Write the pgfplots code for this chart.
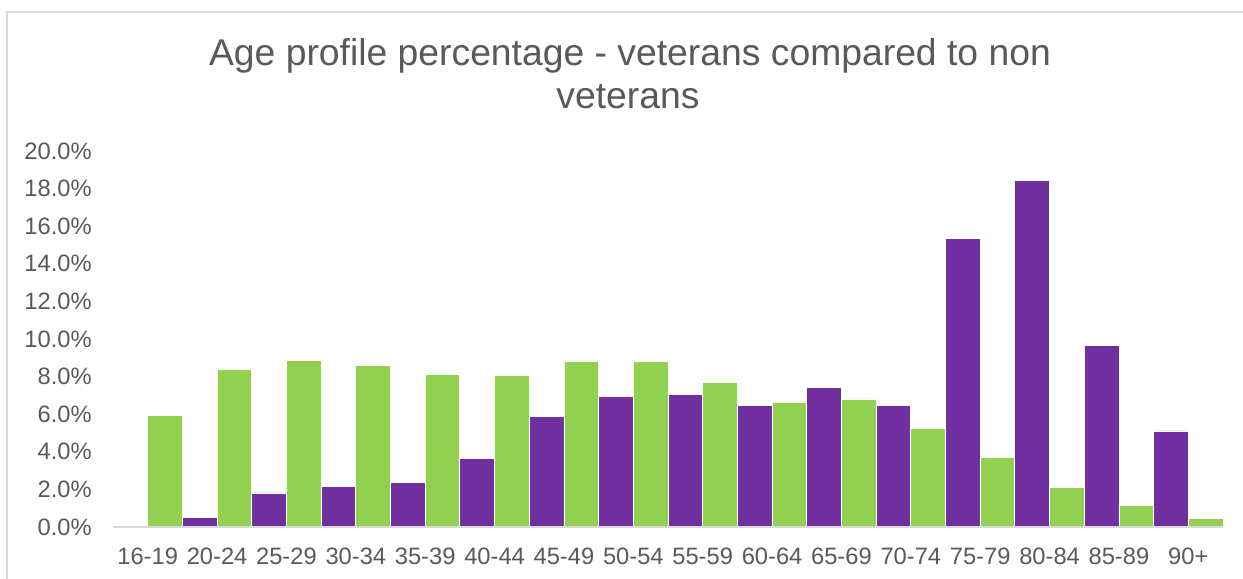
\documentclass[border=0pt]{standalone}
\usepackage{fontspec}
\setmainfont{Liberation Sans}
\usepackage{pgfplots}
\pgfplotsset{compat=1.18}
\usepackage{pgfplotstable}

\definecolor{vetpurple}{HTML}{7030A0}
\definecolor{nongreen}{HTML}{92D050}
\definecolor{labelgray}{HTML}{595959}
\definecolor{framegray}{HTML}{D9D9D9}

% age band index, veterans (%), non veterans (%)
\pgfplotstableread{
idx vet non
0  0.05  5.93
1  0.53  8.37
2  1.81  8.85
3  2.18  8.60
4  2.39  8.14
5  3.63  8.05
6  5.89  8.83
7  6.96  8.82
8  7.04  7.68
9  6.46  6.65
10 7.40  6.81
11 6.48  5.22
12 15.33 3.72
13 18.43 2.09
14 9.66  1.13
15 5.11  0.44
}\agedata

\begin{document}
\begin{tikzpicture}
\path[use as bounding box] (0,0) rectangle (621.5bp,289.5bp);
% chart frame
\draw[framegray, line width=1bp] (3.5bp,0) -- (3.5bp,283.5bp) -- (621.5bp,283.5bp);

\begin{axis}[
  at={(56.5bp,26bp)}, anchor=south west,
  scale only axis,
  width=555bp, height=188bp,
  xmin=-0.5, xmax=15.5,
  ymin=0, ymax=20,
  ybar, bar width=0.5,
  axis line style={draw=none},
  major tick length=0pt,
  tick style={draw=none},
  xtick={0,...,15},
  xticklabels={16-19,20-24,25-29,30-34,35-39,40-44,45-49,50-54,55-59,60-64,65-69,70-74,75-79,80-84,85-89,90+},
  ytick={0,2,...,20},
  yticklabel={\pgfmathprintnumber[fixed,fixed zerofill,precision=1]{\tick}\%},
  /pgf/number format/assume math mode=true,
  ticklabel style={font=\fontsize{11.85bp}{14bp}\selectfont, text=labelgray, inner sep=0pt},
  yticklabel style={anchor=east, xshift=-10.5bp},
  xticklabel style={anchor=north, yshift=-10.5bp},
  clip=false,
]
\addplot[fill=vetpurple, draw=white, line width=0.4bp, bar shift=-0.25] table[x=idx, y=vet] {\agedata};
\addplot[fill=nongreen, draw=white, line width=0.4bp, bar shift=0.25] table[x=idx, y=non] {\agedata};
\draw[framegray, line width=0.9bp] (axis cs:-0.5,0) -- (axis cs:15.5,0);
\end{axis}

\node[anchor=base, inner sep=0pt, text=labelgray, font=\fontsize{18.65bp}{22bp}\selectfont]
  at (315bp,256.65bp) {Age profile percentage - veterans compared to non};
\node[anchor=base, inner sep=0pt, text=labelgray, font=\fontsize{18.65bp}{22bp}\selectfont]
  at (314bp,235.35bp) {veterans};
\end{tikzpicture}
\end{document}
